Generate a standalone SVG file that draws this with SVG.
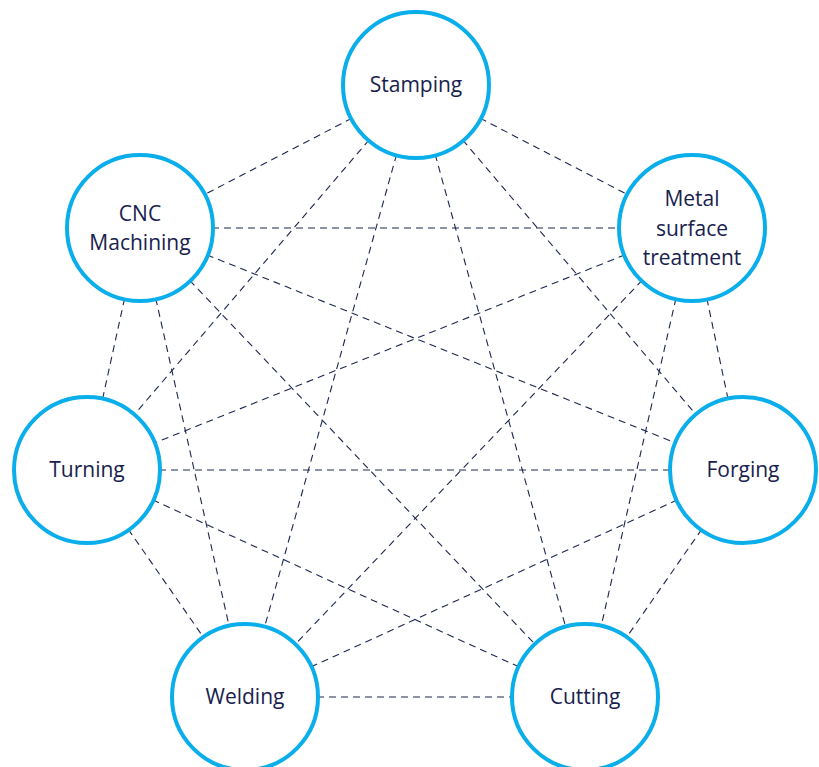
<svg xmlns="http://www.w3.org/2000/svg" width="819" height="767" viewBox="0 0 819 767">
<style>
.edge{stroke:#1c2650;stroke-width:1.1;stroke-dasharray:7 5;fill:none}
.node circle{fill:#fff;stroke:#0aaeea;stroke-width:4}
.node text{font-family:"Open Sans","Noto Sans",sans-serif;font-size:21px;fill:#18214d;text-anchor:middle}
</style>
<rect width="819" height="767" fill="#fff"/>
<g id="connectors">
<line class="edge" x1="416" y1="85" x2="140" y2="228"/>
<line class="edge" x1="416" y1="85" x2="692" y2="228"/>
<line class="edge" x1="416" y1="85" x2="87" y2="470"/>
<line class="edge" x1="416" y1="85" x2="743" y2="470"/>
<line class="edge" x1="416" y1="85" x2="245" y2="697"/>
<line class="edge" x1="416" y1="85" x2="585" y2="697"/>
<line class="edge" x1="140" y1="228" x2="692" y2="228"/>
<line class="edge" x1="140" y1="228" x2="87" y2="470"/>
<line class="edge" x1="140" y1="228" x2="743" y2="470"/>
<line class="edge" x1="140" y1="228" x2="245" y2="697"/>
<line class="edge" x1="140" y1="228" x2="585" y2="697"/>
<line class="edge" x1="692" y1="228" x2="87" y2="470"/>
<line class="edge" x1="692" y1="228" x2="743" y2="470"/>
<line class="edge" x1="692" y1="228" x2="245" y2="697"/>
<line class="edge" x1="692" y1="228" x2="585" y2="697"/>
<line class="edge" x1="87" y1="470" x2="743" y2="470"/>
<line class="edge" x1="87" y1="470" x2="245" y2="697"/>
<line class="edge" x1="87" y1="470" x2="585" y2="697"/>
<line class="edge" x1="743" y1="470" x2="245" y2="697"/>
<line class="edge" x1="743" y1="470" x2="585" y2="697"/>
<line class="edge" x1="245" y1="697" x2="585" y2="697"/>
</g>
<g id="stamping" class="node"><circle cx="416" cy="85" r="73"/><text x="416" y="92">Stamping</text></g>
<g id="cnc" class="node"><circle cx="140" cy="228" r="73"/><text x="140" y="221">CNC</text><text x="140" y="250">Machining</text></g>
<g id="metal" class="node"><circle cx="692" cy="228" r="73"/><text x="692" y="206">Metal</text><text x="692" y="236">surface</text><text x="692" y="265">treatment</text></g>
<g id="turning" class="node"><circle cx="87" cy="470" r="73"/><text x="87" y="477">Turning</text></g>
<g id="forging" class="node"><circle cx="743" cy="470" r="73"/><text x="743" y="477">Forging</text></g>
<g id="welding" class="node"><circle cx="245" cy="697" r="73"/><text x="245" y="704">Welding</text></g>
<g id="cutting" class="node"><circle cx="585" cy="697" r="73"/><text x="585" y="704">Cutting</text></g>
</svg>
